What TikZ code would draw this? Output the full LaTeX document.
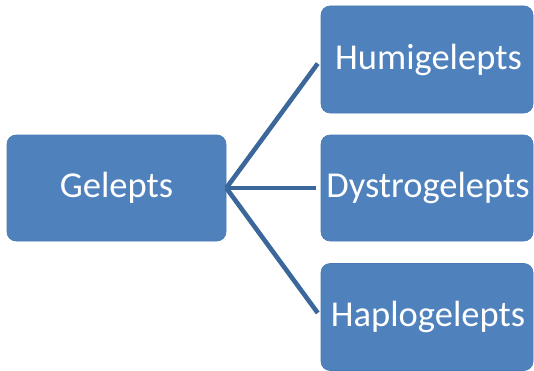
\documentclass[tikz,border=0pt]{standalone}
\usepackage{fontspec}
\setmainfont{Carlito}
\definecolor{boxblue}{HTML}{4F81BD}
\definecolor{boxedge}{HTML}{4A7AB5}
\definecolor{linkblue}{HTML}{3C679B}
\begin{document}
\begin{tikzpicture}[x=1pt,y=1pt,
  catbox/.style={draw=boxedge, line width=0.6pt, fill=boxblue, rounded corners=9pt,
    text=white, font=\fontsize{36.5}{42}\selectfont, inner sep=0pt, anchor=center},
  link/.style={draw=linkblue, line width=4.6pt, shorten >=5pt}]
  \useasboundingbox (0,0) rectangle (534,370);
  % parent category
  \node[catbox, minimum width=219pt, minimum height=106pt] (gel) at (116.5,182) {Gelepts};
  % subgroups
  \node[catbox, minimum width=212pt, minimum height=107pt] (hum) at (427,310.5) {\hspace*{3pt}Humigelepts};
  \node[catbox, minimum width=212pt, minimum height=106pt] (dys) at (427,182) {\hspace*{2pt}Dystrogelepts};
  \node[catbox, minimum width=212pt, minimum height=107pt] (hap) at (427,53) {\hspace*{2pt}Haplogelepts};
  % links from the parent to each subgroup
  \draw[link] (gel.east) -- (hum.west);
  \draw[link] (gel.east) -- (dys.west);
  \draw[link] (gel.east) -- (hap.west);
\end{tikzpicture}
\end{document}
